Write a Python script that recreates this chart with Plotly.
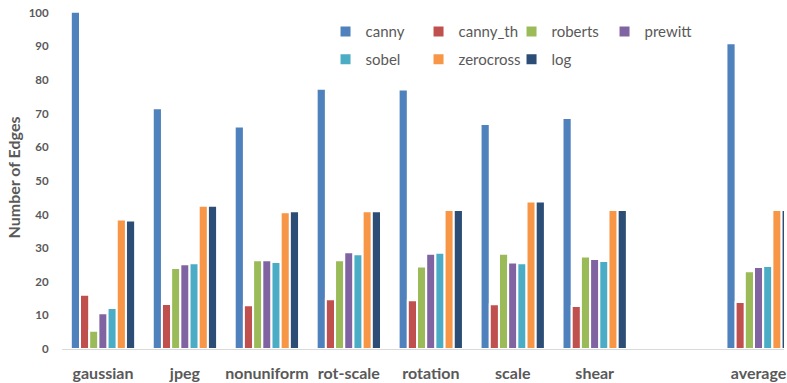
import plotly.graph_objects as go

# Edge counts per distortion type; the blank slot separates the average group
categories = ["gaussian", "jpeg", "nonuniform", "rot-scale", "rotation",
              "scale", "shear", " ", "average"]

canny = [100.3, 71.6, 66.2, 77.4, 77.2, 66.9, 68.7, None, 90.9]
canny_th = [16.1, 13.4, 13.0, 14.8, 14.5, 13.3, 12.8, None, 14.0]
roberts = [5.4, 24.1, 26.4, 26.4, 24.5, 28.3, 27.5, None, 23.1]
prewitt = [10.6, 25.2, 26.4, 28.8, 28.3, 25.7, 26.8, None, 24.4]
sobel = [12.2, 25.5, 25.9, 28.2, 28.6, 25.5, 26.2, None, 24.7]
zerocross = [38.5, 42.6, 40.7, 41.0, 41.3, 43.9, 41.3, None, 41.3]
log = [38.2, 42.6, 41.0, 41.0, 41.3, 43.9, 41.3, None, 41.3]

series = [
    ("canny", canny, "#4F81BD", "legend"),
    ("canny_th", canny_th, "#C0504D", "legend"),
    ("roberts", roberts, "#9BBB59", "legend"),
    ("prewitt", prewitt, "#8064A2", "legend"),
    ("sobel", sobel, "#4BACC6", "legend2"),
    ("zerocross", zerocross, "#F79646", "legend2"),
    ("log", log, "#2C4D75", "legend2"),
]

TEXT = "#595959"
FONT = "Lato"

fig = go.Figure()
for name, vals, color, leg in series:
    fig.add_trace(go.Bar(
        x=categories, y=vals, name=name, legend=leg,
        marker=dict(color=color, line=dict(color="white", width=2)),
    ))

legend_common = dict(
    orientation="h", xanchor="left", yanchor="top",
    entrywidth=48, entrywidthmode="pixels",
    font=dict(family=FONT, size=15, color=TEXT),
    bgcolor="rgba(0,0,0,0)", traceorder="normal",
)

fig.update_layout(
    width=787, height=383,
    margin=dict(l=62, r=0, t=6, b=34),
    paper_bgcolor="white", plot_bgcolor="white",
    barmode="group", bargap=0.215, bargroupgap=0,
    font=dict(family=FONT, color=TEXT),
    legend=dict(x=0.365, y=0.973, **legend_common),
    legend2=dict(x=0.365, y=0.892, **legend_common),
    xaxis=dict(
        type="category", categoryorder="array", categoryarray=categories,
        range=[-0.5, 8.31],
        showline=True, linecolor="#D9D9D9", linewidth=1,
        showgrid=False, ticks="", ticklabelstandoff=10,
        tickfont=dict(family=FONT, size=16, color=TEXT, weight="bold"),
    ),
    yaxis=dict(
        range=[0, 102], dtick=10, tick0=0,
        showline=False, showgrid=False, zeroline=False,
        ticks="outside", ticklen=10, tickcolor="rgba(0,0,0,0)",
        tickfont=dict(family=FONT, size=11.5, color=TEXT, weight="bold"),
        title=dict(text="Number of Edges", standoff=4,
                   font=dict(family=FONT, size=16, color=TEXT, weight="bold")),
    ),
)

fig.write_html("out.html")
